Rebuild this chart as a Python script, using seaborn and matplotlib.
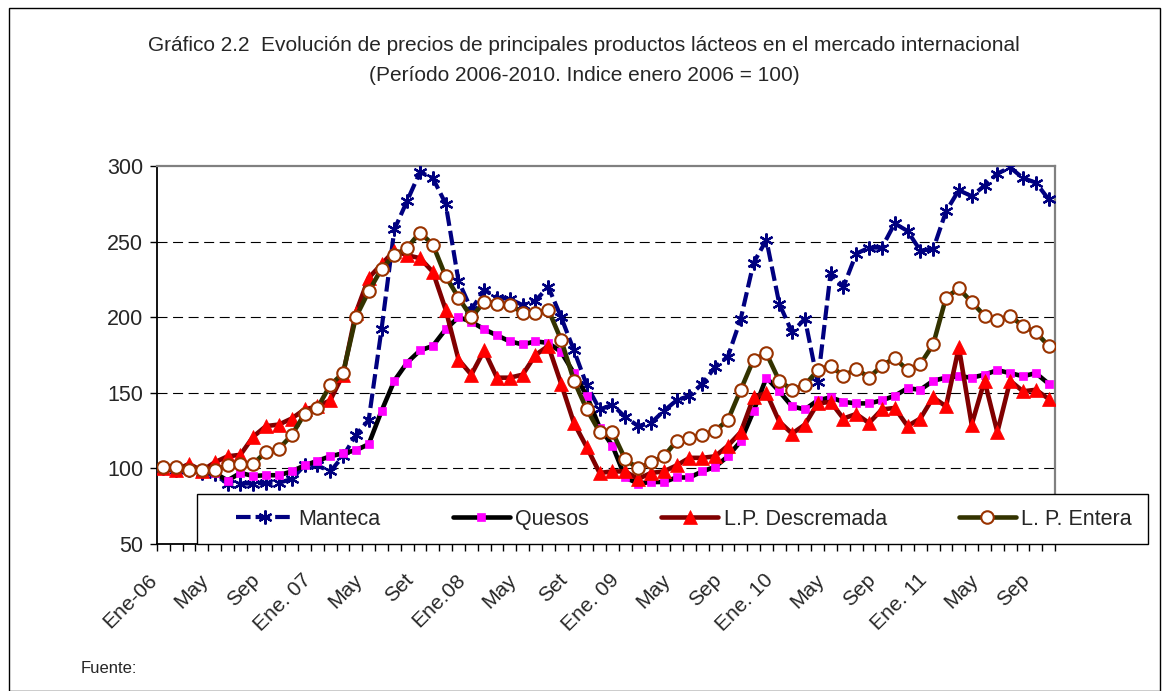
import numpy as np
import pandas as pd
import matplotlib
matplotlib.use("Agg")
import matplotlib.pyplot as plt
import matplotlib.transforms as mtransforms
from matplotlib.patches import Rectangle
import seaborn as sns

# Monthly index values, Jan 2006 .. Oct 2011 (Jan 2006 = 100)
manteca = [100, 99, 99, 97, 96, 90, 90, 90, 90.5, 90.5, 93, 102, 102, 98, 108, 122,
           132, 192, 258, 277, 296, 292, 275, 224, 205, 218, 213, 212, 208, 211,
           220, 200, 178, 155, 139, 142, 134, 128, 130, 138, 145, 148, 156, 167,
           174, 199, 236, 251, 209, 190, 199, 157, 229, 220, 242, 246, 246, 262,
           257, 244, 245, 270, 284, 280, 287, 295, 299, 292, 289, 278]
quesos = [100, 99, 99, 98, 97, 92, 97, 95, 95.5, 95.5, 98, 102, 105, 108, 110, 112,
          116, 138, 158, 170, 178, 181, 192, 200, 197, 192, 188, 184, 182, 184,
          183, 177, 163, 148, 127, 115, 94, 90, 91, 91, 94, 94, 98, 101,
          108, 118, 138, 160, 151, 141, 139, 145, 147, 144, 143, 143, 145, 148,
          153, 152, 158, 160, 161, 160, 162, 165, 163, 161, 163, 156]
descremada = [100, 99, 103, 98.5, 104, 108, 109, 121, 128, 129, 133, 139, 141, 145, 162, 203,
              226, 235, 244, 241, 239, 230, 205, 172, 162, 178, 160, 160, 162, 175,
              181, 156, 130, 114, 97, 98, 98, 93, 97, 98, 102, 107, 107, 108,
              115, 124, 147, 150, 131, 123, 129, 143, 144, 133, 136, 130, 139, 140,
              128, 133, 147, 141, 180, 129, 158, 124, 158, 151, 152, 146]
entera = [101, 101, 99, 99, 99, 102, 103, 103, 111, 113, 122, 136, 140, 155, 163, 200,
          217, 232, 241, 246, 256, 248, 227, 213, 200, 210, 209, 208, 203, 203,
          205, 185, 158, 139, 124, 124, 106, 100, 104, 108, 118, 120, 122, 125,
          132, 152, 172, 176, 158, 152, 155, 165, 168, 161, 166, 160, 168, 173,
          165, 169, 182, 213, 219, 210, 201, 198, 201, 194, 190, 181]

tick_labels = ["Ene-06", "May", "Sep", "Ene. 07", "May", "Set", "Ene.08", "May", "Set",
               "Ene. 09", "May", "Sep", "Ene. 10", "May", "Sep", "Ene. 11", "May", "Sep"]

months = np.arange(len(manteca))
df = pd.DataFrame({"mes": months, "Manteca": manteca, "Quesos": quesos,
                   "L.P. Descremada": descremada, "L. P. Entera": entera})

sns.set_theme(style="white")
plt.rcParams["font.family"] = ["Liberation Sans", "DejaVu Sans"]

fig = plt.figure(figsize=(11.63, 6.91), dpi=100)
ax = fig.add_axes([0.135, 0.2127, 0.7722, 0.5471])

star = (6, 2, 0)
sns.lineplot(data=df, x="mes", y="Manteca", ax=ax, color="#000080", lw=3,
             linestyle=(0, (3.5, 1.2)), marker=star, ms=10, mew=1.6,
             mec="#000080", mfc="#000080", label="Manteca", zorder=3)
sns.lineplot(data=df, x="mes", y="Quesos", ax=ax, color="black", lw=3.3,
             marker="s", ms=5.5, mew=0.5, mec="#FF00FF", mfc="#FF00FF",
             label="Quesos", zorder=4)
sns.lineplot(data=df, x="mes", y="L.P. Descremada", ax=ax, color="#800000", lw=3.3,
             marker="^", ms=10, mew=0.5, mec="#FF0000", mfc="#FF0000",
             label="L.P. Descremada", zorder=5)
sns.lineplot(data=df, x="mes", y="L. P. Entera", ax=ax, color="#333300", lw=3.3,
             marker="o", ms=9, mew=1.5, mec="#993300", mfc="white",
             label="L. P. Entera", zorder=6)

ax.set_xlim(-0.5, len(months) - 0.5)
ax.set_ylim(50, 300)
ax.set_yticks([50, 100, 150, 200, 250, 300])
ax.tick_params(axis="y", labelsize=15.5, length=5, width=1, color="black",
               direction="out", left=True, pad=5)
ax.set_xticks(months[::4])
ax.set_xticklabels(tick_labels, rotation=45, ha="right", va="top",
                   rotation_mode="anchor", fontsize=15)
ax.tick_params(axis="x", which="major", length=0, pad=19)
# nudge the slanted labels left, like the original
shift = mtransforms.ScaledTranslation(-16 / 100, 0, fig.dpi_scale_trans)
for lab in ax.get_xticklabels():
    lab.set_transform(lab.get_transform() + shift)
ax.set_xticks(np.arange(-0.5, len(months), 1), minor=True)
ax.tick_params(axis="x", which="minor", length=5, width=1, color="black",
               direction="out", bottom=True)
ax.set_xlabel("")
ax.set_ylabel("")

for v in [100, 150, 200, 250]:
    ax.axhline(v, color="black", lw=0.8, linestyle=(0, (9, 5)), zorder=1)

for s in ["left", "bottom"]:
    ax.spines[s].set_color("black")
    ax.spines[s].set_linewidth(1.3)
for s in ["top", "right"]:
    ax.spines[s].set_color("#808080")
    ax.spines[s].set_linewidth(1.6)

# legend box (drawn separately so entries can sit like the original)
ax.add_patch(Rectangle((0.0445, 0.0), 1.0591, 0.132, transform=ax.transAxes,
                       facecolor="white", edgecolor="black", lw=1.0,
                       clip_on=False, zorder=9))
handles, labels = ax.get_legend_handles_labels()
leg = ax.legend(handles, labels, loc="center left", ncol=4,
                bbox_to_anchor=(0.088, 0.066), fontsize=15.5, frameon=False,
                borderaxespad=0, borderpad=0, handlelength=2.65,
                handletextpad=0.25, columnspacing=3.35)
leg.set_zorder(10)

fig.text(0.502, 0.934, "Gráfico 2.2  Evolución de precios de principales productos lácteos en el mercado internacional",
         ha="center", va="center", fontsize=15)
fig.text(0.502, 0.891, "(Período 2006-2010. Indice enero 2006 = 100)",
         ha="center", va="center", fontsize=15)
fig.text(0.069, 0.033, "Fuente:", ha="left", va="center", fontsize=12)

# outer chart-area frame
fig.add_artist(Rectangle((0.008, 0.0), 0.989, 0.988, transform=fig.transFigure,
                         fill=False, edgecolor="black", lw=1.0))

fig.savefig("out.png", dpi=100)
